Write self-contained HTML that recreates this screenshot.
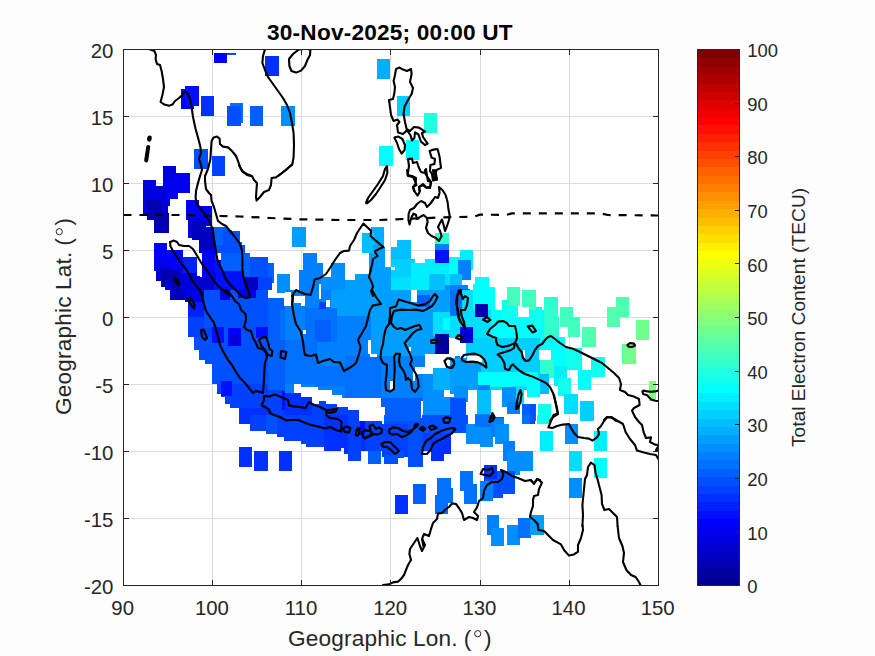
<!DOCTYPE html><html><head><meta charset="utf-8"><title>TEC map</title>
<style>html,body{margin:0;padding:0;background:#fff}svg{display:block}text{font-family:"Liberation Sans",sans-serif;fill:#262626}</style></head><body>
<svg width="875" height="656" viewBox="0 0 875 656">
<rect x="0" y="0" width="875" height="656" fill="#fdfdfd"/>
<rect x="123.5" y="49.5" width="535.0" height="536.0" fill="#ffffff"/>
<g stroke="#dcdcdc" stroke-width="1" shape-rendering="crispEdges">
<line x1="212.5" y1="49.5" x2="212.5" y2="585.5"/>
<line x1="301.5" y1="49.5" x2="301.5" y2="585.5"/>
<line x1="390.5" y1="49.5" x2="390.5" y2="585.5"/>
<line x1="480.5" y1="49.5" x2="480.5" y2="585.5"/>
<line x1="569.5" y1="49.5" x2="569.5" y2="585.5"/>
<line x1="123.5" y1="518.5" x2="658.5" y2="518.5"/>
<line x1="123.5" y1="451.5" x2="658.5" y2="451.5"/>
<line x1="123.5" y1="384.5" x2="658.5" y2="384.5"/>
<line x1="123.5" y1="317.5" x2="658.5" y2="317.5"/>
<line x1="123.5" y1="250.5" x2="658.5" y2="250.5"/>
<line x1="123.5" y1="183.5" x2="658.5" y2="183.5"/>
<line x1="123.5" y1="116.5" x2="658.5" y2="116.5"/>
</g>
<clipPath id="ax"><rect x="123.5" y="49.5" width="535.0" height="536.0"/></clipPath>
<g id="data" shape-rendering="crispEdges" clip-path="url(#ax)">
<rect x="214.0" y="52.6" width="13.4" height="10.0" fill="#0000ff"/>
<rect x="227.4" y="52.6" width="9.0" height="2.8" fill="#0050ff"/>
<rect x="265.4" y="56.0" width="13.6" height="19.6" fill="#0030ff"/>
<rect x="180.6" y="89.4" width="13.4" height="19.6" fill="#0000ff"/>
<rect x="185.0" y="86.0" width="13.6" height="19.6" fill="#0010ff"/>
<rect x="200.8" y="96.0" width="13.2" height="19.6" fill="#0030ff"/>
<rect x="230.0" y="102.6" width="13.0" height="20.0" fill="#0070ff"/>
<rect x="227.4" y="106.0" width="13.6" height="20.0" fill="#0050ff"/>
<rect x="250.0" y="106.0" width="13.2" height="20.0" fill="#0060ff"/>
<rect x="281.2" y="106.0" width="13.8" height="20.0" fill="#008fff"/>
<rect x="194.0" y="149.4" width="13.6" height="20.0" fill="#0050ff"/>
<rect x="212.0" y="156.0" width="13.2" height="20.0" fill="#0040ff"/>
<rect x="162.6" y="166.0" width="13.4" height="10.0" fill="#0000ef"/>
<rect x="176.0" y="173.0" width="13.6" height="3.0" fill="#0000ef"/>
<rect x="377.0" y="59.0" width="13.4" height="20.0" fill="#00afff"/>
<rect x="397.0" y="96.0" width="13.4" height="20.0" fill="#00cfff"/>
<rect x="424.0" y="113.0" width="13.4" height="19.6" fill="#20ffdf"/>
<rect x="406.0" y="139.6" width="13.4" height="20.0" fill="#00ffff"/>
<rect x="379.0" y="146.2" width="13.6" height="20.0" fill="#00ffff"/>
<rect x="179.0" y="269.0" width="5.0" height="5.0" fill="#0000ff"/>
<rect x="213.0" y="284.0" width="4.0" height="7.0" fill="#0010ff"/>
<rect x="163.0" y="166.0" width="13.4" height="20.0" fill="#0000df"/>
<rect x="176.4" y="173.0" width="13.2" height="20.0" fill="#0000ef"/>
<rect x="143.0" y="179.6" width="13.4" height="20.0" fill="#0000df"/>
<rect x="156.0" y="186.0" width="13.6" height="20.0" fill="#0000df"/>
<rect x="165.0" y="179.4" width="13.4" height="20.0" fill="#0000ef"/>
<rect x="143.0" y="199.6" width="5.0" height="15.4" fill="#0000df"/>
<rect x="161.0" y="203.0" width="6.6" height="11.0" fill="#0000cf"/>
<rect x="147.0" y="200.0" width="14.0" height="20.0" fill="#0000af"/>
<rect x="154.4" y="213.0" width="14.8" height="20.0" fill="#0000af"/>
<rect x="185.6" y="199.6" width="13.4" height="20.0" fill="#0000ff"/>
<rect x="199.0" y="206.0" width="13.0" height="20.0" fill="#0000ff"/>
<rect x="187.6" y="218.0" width="13.4" height="20.0" fill="#0000df"/>
<rect x="204.0" y="227.0" width="10.0" height="18.0" fill="#0000cf"/>
<rect x="192.4" y="221.0" width="13.6" height="19.0" fill="#0000bf"/>
<rect x="199.0" y="233.0" width="15.0" height="20.0" fill="#0000bf"/>
<rect x="214.0" y="226.6" width="14.0" height="20.0" fill="#0060ff"/>
<rect x="223.0" y="230.0" width="9.0" height="15.0" fill="#0050ff"/>
<rect x="228.0" y="242.0" width="14.0" height="17.0" fill="#0060ff"/>
<rect x="214.0" y="245.0" width="31.0" height="16.0" fill="#0050ff"/>
<rect x="220.0" y="253.0" width="30.0" height="24.0" fill="#0060ff"/>
<rect x="202.0" y="250.0" width="13.0" height="20.0" fill="#0000ff"/>
<rect x="250.0" y="257.0" width="18.0" height="20.0" fill="#0050ff"/>
<rect x="268.0" y="263.0" width="6.4" height="20.0" fill="#0060ff"/>
<rect x="276.6" y="273.6" width="13.4" height="19.4" fill="#008fff"/>
<rect x="292.4" y="226.6" width="2.6" height="20.0" fill="#009fff"/>
<rect x="258.0" y="277.0" width="14.0" height="19.0" fill="#0040ff"/>
<rect x="215.0" y="271.0" width="29.0" height="25.0" fill="#0010ff"/>
<rect x="244.0" y="277.0" width="14.0" height="19.0" fill="#0000bf"/>
<rect x="154.0" y="243.4" width="13.4" height="20.0" fill="#0000ff"/>
<rect x="167.4" y="250.0" width="15.6" height="20.0" fill="#0000ff"/>
<rect x="154.0" y="259.0" width="16.0" height="12.0" fill="#0000ef"/>
<rect x="156.4" y="267.0" width="15.6" height="14.0" fill="#0000cf"/>
<rect x="161.0" y="270.0" width="19.0" height="17.0" fill="#0000af"/>
<rect x="170.0" y="285.0" width="16.0" height="11.0" fill="#0000af"/>
<rect x="183.0" y="257.0" width="14.0" height="20.0" fill="#0020ff"/>
<rect x="180.0" y="273.0" width="20.0" height="23.0" fill="#0000df"/>
<rect x="202.4" y="269.0" width="13.6" height="16.0" fill="#0000ef"/>
<rect x="200.0" y="277.0" width="14.0" height="19.0" fill="#0000cf"/>
<rect x="165.0" y="281.0" width="7.0" height="9.0" fill="#0000df"/>
<rect x="228.0" y="231.0" width="12.0" height="14.0" fill="#0050ff"/>
<rect x="214.0" y="259.0" width="7.0" height="13.0" fill="#0010ff"/>
<rect x="217.0" y="253.0" width="3.6" height="7.0" fill="#ffffff"/>
<rect x="197.0" y="263.0" width="5.4" height="13.0" fill="#ffffff"/>
<rect x="292.4" y="226.6" width="13.2" height="20.0" fill="#009fff"/>
<rect x="303.4" y="253.4" width="13.6" height="20.6" fill="#0080ff"/>
<rect x="317.0" y="263.0" width="6.4" height="14.0" fill="#0080ff"/>
<rect x="299.4" y="270.0" width="13.6" height="26.0" fill="#0080ff"/>
<rect x="285.0" y="274.0" width="5.0" height="19.0" fill="#008fff"/>
<rect x="313.0" y="274.0" width="5.0" height="5.0" fill="#0080ff"/>
<rect x="313.0" y="278.0" width="8.4" height="18.0" fill="#0080ff"/>
<rect x="331.0" y="263.0" width="13.6" height="20.0" fill="#008fff"/>
<rect x="321.4" y="277.0" width="23.6" height="19.0" fill="#008fff"/>
<rect x="345.0" y="280.0" width="10.0" height="16.0" fill="#009fff"/>
<rect x="355.0" y="274.0" width="14.0" height="22.0" fill="#009fff"/>
<rect x="370.6" y="226.6" width="13.4" height="20.0" fill="#00afff"/>
<rect x="362.0" y="233.0" width="13.0" height="20.0" fill="#00bfff"/>
<rect x="373.0" y="245.0" width="6.0" height="6.0" fill="#009fff"/>
<rect x="369.0" y="253.0" width="16.0" height="14.0" fill="#009fff"/>
<rect x="377.0" y="246.6" width="8.0" height="8.4" fill="#009fff"/>
<rect x="369.0" y="267.0" width="22.0" height="29.0" fill="#009fff"/>
<rect x="391.0" y="246.6" width="6.0" height="20.4" fill="#00bfff"/>
<rect x="397.0" y="240.0" width="13.6" height="20.0" fill="#00bfff"/>
<rect x="390.6" y="259.0" width="24.4" height="20.0" fill="#00cfff"/>
<rect x="391.0" y="277.0" width="20.0" height="19.0" fill="#00dfff"/>
<rect x="411.0" y="263.0" width="18.0" height="33.0" fill="#00efff"/>
<rect x="425.0" y="259.0" width="26.0" height="18.0" fill="#00efff"/>
<rect x="435.0" y="233.0" width="13.6" height="11.0" fill="#30ffcf"/>
<rect x="435.0" y="244.0" width="13.6" height="6.0" fill="#0080ff"/>
<rect x="435.0" y="250.0" width="13.6" height="13.0" fill="#0010ff"/>
<rect x="448.6" y="257.0" width="11.4" height="20.0" fill="#00ffff"/>
<rect x="429.0" y="274.0" width="16.0" height="22.0" fill="#00bfff"/>
<rect x="445.0" y="274.0" width="15.0" height="15.0" fill="#00dfff"/>
<rect x="445.0" y="285.0" width="15.0" height="11.0" fill="#008fff"/>
<rect x="390.6" y="266.6" width="4.4" height="3.4" fill="#ffffff"/>
<rect x="411.0" y="290.0" width="6.0" height="6.0" fill="#ffffff"/>
<rect x="319.4" y="284.0" width="2.0" height="12.0" fill="#ffffff"/>
<rect x="459.6" y="250.0" width="13.4" height="20.0" fill="#00efff"/>
<rect x="451.0" y="257.0" width="8.6" height="28.0" fill="#00ffff"/>
<rect x="457.6" y="260.0" width="13.4" height="20.0" fill="#0080ff"/>
<rect x="450.0" y="274.0" width="12.0" height="22.0" fill="#00bfff"/>
<rect x="450.0" y="285.0" width="18.0" height="11.0" fill="#0080ff"/>
<rect x="462.0" y="289.0" width="8.0" height="7.0" fill="#0050ff"/>
<rect x="475.4" y="277.0" width="13.2" height="19.0" fill="#00ffff"/>
<rect x="473.0" y="284.0" width="2.4" height="12.0" fill="#00ffff"/>
<rect x="488.6" y="287.0" width="6.8" height="9.0" fill="#00ffff"/>
<rect x="506.6" y="287.0" width="13.4" height="9.0" fill="#40ffbf"/>
<rect x="522.0" y="290.2" width="13.6" height="5.8" fill="#40ffbf"/>
<rect x="187.6" y="300.0" width="28.4" height="37.0" fill="#0040ff"/>
<rect x="194.4" y="337.0" width="21.6" height="13.0" fill="#0050ff"/>
<rect x="198.6" y="350.0" width="17.4" height="10.4" fill="#0050ff"/>
<rect x="205.0" y="360.4" width="11.0" height="3.6" fill="#0050ff"/>
<rect x="204.0" y="290.0" width="64.0" height="38.0" fill="#0050ff"/>
<rect x="216.0" y="328.0" width="52.0" height="56.0" fill="#0050ff"/>
<rect x="212.0" y="364.0" width="56.0" height="20.0" fill="#0050ff"/>
<rect x="216.6" y="384.0" width="51.4" height="10.0" fill="#0040ff"/>
<rect x="221.0" y="394.0" width="47.0" height="3.4" fill="#0040ff"/>
<rect x="225.4" y="397.4" width="42.6" height="6.6" fill="#0040ff"/>
<rect x="230.0" y="404.0" width="38.0" height="3.6" fill="#0040ff"/>
<rect x="239.0" y="407.6" width="56.0" height="13.4" fill="#0030ff"/>
<rect x="268.0" y="298.0" width="27.0" height="123.0" fill="#0060ff"/>
<rect x="280.0" y="310.0" width="15.0" height="30.0" fill="#0070ff"/>
<rect x="290.0" y="304.0" width="5.0" height="46.0" fill="#008fff"/>
<rect x="268.0" y="390.0" width="27.0" height="31.0" fill="#0040ff"/>
<rect x="187.6" y="300.0" width="16.4" height="17.0" fill="#0020ff"/>
<rect x="169.6" y="290.0" width="15.4" height="10.0" fill="#0000bf"/>
<rect x="185.0" y="290.0" width="19.0" height="12.0" fill="#0000ef"/>
<rect x="220.0" y="290.0" width="10.0" height="10.0" fill="#0000df"/>
<rect x="238.0" y="290.0" width="18.0" height="8.0" fill="#0000ef"/>
<rect x="212.0" y="327.0" width="12.0" height="16.0" fill="#0010ff"/>
<rect x="228.0" y="328.0" width="13.0" height="18.0" fill="#0000ff"/>
<rect x="232.0" y="335.0" width="7.0" height="9.0" fill="#0000cf"/>
<rect x="256.0" y="327.0" width="12.0" height="11.0" fill="#0010ff"/>
<rect x="221.0" y="381.0" width="11.0" height="15.0" fill="#0010ff"/>
<rect x="282.0" y="391.0" width="13.0" height="19.0" fill="#0010ff"/>
<rect x="268.0" y="290.0" width="24.0" height="8.0" fill="#ffffff"/>
<rect x="277.0" y="290.0" width="13.0" height="3.0" fill="#008fff"/>
<rect x="284.0" y="298.0" width="5.0" height="8.0" fill="#ffffff"/>
<rect x="285.0" y="290.0" width="175.0" height="131.0" fill="#0080ff"/>
<rect x="331.0" y="290.0" width="129.0" height="26.0" fill="#009fff"/>
<rect x="371.0" y="310.0" width="66.0" height="46.0" fill="#009fff"/>
<rect x="305.0" y="308.0" width="32.0" height="34.0" fill="#0070ff"/>
<rect x="315.0" y="320.0" width="16.0" height="22.0" fill="#0060ff"/>
<rect x="285.0" y="340.0" width="32.0" height="44.0" fill="#0070ff"/>
<rect x="315.0" y="366.0" width="30.0" height="20.0" fill="#0070ff"/>
<rect x="345.0" y="356.0" width="36.0" height="42.0" fill="#0070ff"/>
<rect x="381.0" y="356.0" width="44.0" height="42.0" fill="#0080ff"/>
<rect x="417.0" y="295.0" width="13.0" height="12.0" fill="#0060ff"/>
<rect x="433.0" y="312.0" width="27.0" height="24.0" fill="#00dfff"/>
<rect x="443.0" y="318.0" width="14.0" height="12.0" fill="#00ffff"/>
<rect x="456.0" y="290.0" width="4.0" height="32.0" fill="#0070ff"/>
<rect x="423.0" y="368.0" width="37.0" height="53.0" fill="#008fff"/>
<rect x="433.0" y="366.0" width="27.0" height="24.0" fill="#00afff"/>
<rect x="381.0" y="398.0" width="42.0" height="23.0" fill="#0060ff"/>
<rect x="405.0" y="402.0" width="16.0" height="16.0" fill="#0060ff"/>
<rect x="285.0" y="393.0" width="27.0" height="28.0" fill="#0030ff"/>
<rect x="312.0" y="404.0" width="25.0" height="17.0" fill="#0040ff"/>
<rect x="337.0" y="407.0" width="22.0" height="14.0" fill="#0040ff"/>
<rect x="319.0" y="302.0" width="7.0" height="7.0" fill="#0040ff"/>
<rect x="294.0" y="384.0" width="7.4" height="9.0" fill="#ffffff"/>
<rect x="301.0" y="387.0" width="17.0" height="10.0" fill="#ffffff"/>
<rect x="312.0" y="390.0" width="20.0" height="11.0" fill="#ffffff"/>
<rect x="312.0" y="401.0" width="7.0" height="3.0" fill="#ffffff"/>
<rect x="326.0" y="395.0" width="16.0" height="9.0" fill="#ffffff"/>
<rect x="337.0" y="398.0" width="12.0" height="9.0" fill="#ffffff"/>
<rect x="348.0" y="398.0" width="33.0" height="12.0" fill="#ffffff"/>
<rect x="359.0" y="407.0" width="26.0" height="11.0" fill="#ffffff"/>
<rect x="359.0" y="418.0" width="30.0" height="3.0" fill="#ffffff"/>
<rect x="285.0" y="292.0" width="6.0" height="14.0" fill="#ffffff"/>
<rect x="294.0" y="296.0" width="11.0" height="7.0" fill="#ffffff"/>
<rect x="300.6" y="297.0" width="4.8" height="9.0" fill="#ffffff"/>
<rect x="326.0" y="300.0" width="4.0" height="7.0" fill="#ffffff"/>
<rect x="319.0" y="290.0" width="2.4" height="9.0" fill="#ffffff"/>
<rect x="303.0" y="330.0" width="3.0" height="4.0" fill="#ffffff"/>
<rect x="411.0" y="290.0" width="6.0" height="12.0" fill="#ffffff"/>
<rect x="453.0" y="303.0" width="4.0" height="14.0" fill="#ffffff"/>
<rect x="368.0" y="340.0" width="3.0" height="14.0" fill="#ffffff"/>
<rect x="370.0" y="353.6" width="7.0" height="3.4" fill="#ffffff"/>
<rect x="425.0" y="354.0" width="30.0" height="14.0" fill="#ffffff"/>
<rect x="448.0" y="337.0" width="12.0" height="19.0" fill="#ffffff"/>
<rect x="415.0" y="367.0" width="18.0" height="7.0" fill="#ffffff"/>
<rect x="444.0" y="390.0" width="11.0" height="7.0" fill="#ffffff"/>
<rect x="421.0" y="401.0" width="2.0" height="17.0" fill="#ffffff"/>
<rect x="413.0" y="372.0" width="2.0" height="9.0" fill="#ffffff"/>
<rect x="390.4" y="381.0" width="2.6" height="9.0" fill="#ffffff"/>
<rect x="408.6" y="347.0" width="2.0" height="4.0" fill="#ffffff"/>
<rect x="435.4" y="334.0" width="13.2" height="19.6" fill="#00009f"/>
<rect x="319.0" y="400.6" width="7.0" height="3.8" fill="#0040ff"/>
<rect x="450.0" y="290.0" width="24.0" height="48.0" fill="#00dfff"/>
<rect x="450.0" y="290.0" width="12.0" height="26.0" fill="#0070ff"/>
<rect x="473.0" y="290.0" width="22.0" height="20.0" fill="#00ffff"/>
<rect x="466.0" y="310.0" width="30.0" height="32.0" fill="#00dfff"/>
<rect x="491.0" y="310.0" width="53.0" height="40.0" fill="#00ffff"/>
<rect x="502.0" y="300.0" width="16.0" height="18.0" fill="#10ffef"/>
<rect x="529.0" y="307.0" width="13.0" height="20.0" fill="#10ffef"/>
<rect x="506.6" y="290.0" width="13.4" height="16.0" fill="#40ffbf"/>
<rect x="522.0" y="290.0" width="13.6" height="20.0" fill="#40ffbf"/>
<rect x="544.0" y="297.0" width="14.0" height="20.0" fill="#30ffcf"/>
<rect x="544.0" y="317.0" width="15.0" height="20.0" fill="#30ffcf"/>
<rect x="560.0" y="307.0" width="13.4" height="20.0" fill="#40ffbf"/>
<rect x="568.0" y="317.0" width="12.0" height="20.0" fill="#40ffbf"/>
<rect x="582.0" y="327.0" width="13.6" height="20.0" fill="#50ffaf"/>
<rect x="607.0" y="307.0" width="13.0" height="20.0" fill="#50ffaf"/>
<rect x="616.0" y="297.0" width="9.0" height="20.0" fill="#50ffaf"/>
<rect x="622.4" y="344.0" width="2.6" height="20.0" fill="#50ffaf"/>
<rect x="466.0" y="338.0" width="74.0" height="52.0" fill="#00cfff"/>
<rect x="477.6" y="342.6" width="35.4" height="29.0" fill="#00cfff"/>
<rect x="466.4" y="371.6" width="71.6" height="15.0" fill="#00ffff"/>
<rect x="450.0" y="358.0" width="28.0" height="36.0" fill="#009fff"/>
<rect x="455.0" y="357.6" width="26.4" height="14.4" fill="#009fff"/>
<rect x="477.6" y="385.4" width="12.6" height="7.6" fill="#0080ff"/>
<rect x="540.0" y="337.0" width="25.0" height="33.0" fill="#00ffff"/>
<rect x="565.0" y="348.0" width="17.0" height="22.0" fill="#10ffef"/>
<rect x="540.0" y="360.0" width="14.0" height="18.0" fill="#30ffcf"/>
<rect x="554.0" y="366.0" width="13.0" height="20.0" fill="#00efff"/>
<rect x="558.0" y="378.0" width="13.0" height="18.0" fill="#10ffef"/>
<rect x="578.0" y="370.0" width="13.0" height="20.0" fill="#00ffff"/>
<rect x="591.0" y="357.0" width="14.0" height="20.0" fill="#10ffef"/>
<rect x="527.0" y="378.0" width="13.0" height="19.0" fill="#00ffff"/>
<rect x="540.0" y="374.0" width="9.0" height="20.0" fill="#00bfff"/>
<rect x="512.0" y="386.0" width="12.0" height="18.0" fill="#00dfff"/>
<rect x="502.0" y="387.0" width="14.0" height="20.0" fill="#008fff"/>
<rect x="507.0" y="402.0" width="13.0" height="12.0" fill="#0080ff"/>
<rect x="522.0" y="404.0" width="13.6" height="17.0" fill="#0060ff"/>
<rect x="538.0" y="404.0" width="13.0" height="17.0" fill="#00ffff"/>
<rect x="564.0" y="394.0" width="14.0" height="20.0" fill="#00dfff"/>
<rect x="580.0" y="401.0" width="13.6" height="20.0" fill="#00cfff"/>
<rect x="477.0" y="390.0" width="14.0" height="24.0" fill="#00bfff"/>
<rect x="475.0" y="414.0" width="15.0" height="7.0" fill="#0080ff"/>
<rect x="454.0" y="386.0" width="14.0" height="16.0" fill="#008fff"/>
<rect x="450.0" y="398.0" width="16.0" height="23.0" fill="#0050ff"/>
<rect x="490.0" y="417.0" width="14.0" height="4.0" fill="#0050ff"/>
<rect x="475.0" y="303.6" width="13.4" height="13.4" fill="#0000af"/>
<rect x="460.0" y="327.0" width="13.0" height="16.0" fill="#0000ef"/>
<rect x="460.0" y="333.0" width="10.0" height="10.0" fill="#0000bf"/>
<rect x="518.0" y="307.0" width="11.0" height="10.0" fill="#ffffff"/>
<rect x="539.0" y="350.0" width="12.0" height="10.0" fill="#ffffff"/>
<rect x="467.0" y="356.0" width="15.0" height="6.0" fill="#ffffff"/>
<rect x="523.0" y="350.0" width="2.0" height="9.0" fill="#ffffff"/>
<rect x="468.0" y="390.0" width="9.0" height="18.0" fill="#ffffff"/>
<rect x="607.0" y="307.0" width="13.0" height="20.0" fill="#50ffaf"/>
<rect x="616.0" y="297.0" width="13.0" height="20.0" fill="#50ffaf"/>
<rect x="636.0" y="320.4" width="13.4" height="20.0" fill="#70ff8f"/>
<rect x="622.6" y="344.0" width="13.4" height="19.6" fill="#70ff8f"/>
<rect x="649.4" y="380.6" width="6.6" height="20.4" fill="#80ff80"/>
<rect x="238.6" y="447.4" width="13.4" height="20.0" fill="#0030ff"/>
<rect x="254.4" y="451.0" width="13.2" height="20.0" fill="#0030ff"/>
<rect x="279.0" y="451.0" width="13.4" height="20.0" fill="#0030ff"/>
<rect x="238.6" y="415.0" width="15.4" height="9.0" fill="#0030ff"/>
<rect x="250.0" y="415.0" width="16.0" height="16.0" fill="#0040ff"/>
<rect x="266.0" y="415.0" width="11.0" height="19.0" fill="#0050ff"/>
<rect x="277.0" y="415.0" width="7.0" height="22.4" fill="#0040ff"/>
<rect x="284.0" y="415.0" width="17.0" height="25.6" fill="#0040ff"/>
<rect x="301.0" y="415.0" width="5.0" height="29.0" fill="#0040ff"/>
<rect x="306.0" y="415.0" width="18.0" height="32.4" fill="#0040ff"/>
<rect x="324.0" y="415.0" width="17.0" height="36.0" fill="#0030ff"/>
<rect x="341.0" y="415.0" width="3.0" height="33.0" fill="#0030ff"/>
<rect x="344.0" y="415.0" width="4.0" height="39.0" fill="#0030ff"/>
<rect x="348.0" y="415.0" width="13.0" height="45.6" fill="#0040ff"/>
<rect x="361.0" y="415.0" width="14.0" height="36.0" fill="#0030ff"/>
<rect x="368.4" y="451.0" width="6.6" height="13.0" fill="#0080ff"/>
<rect x="360.0" y="421.0" width="15.0" height="14.0" fill="#0010ff"/>
<rect x="359.0" y="415.0" width="16.0" height="6.0" fill="#ffffff"/>
<rect x="384.0" y="419.0" width="39.0" height="6.0" fill="#0050ff"/>
<rect x="365.0" y="421.0" width="17.0" height="30.0" fill="#0040ff"/>
<rect x="368.0" y="451.0" width="13.4" height="13.0" fill="#0060ff"/>
<rect x="382.0" y="424.0" width="26.0" height="33.0" fill="#0040ff"/>
<rect x="384.0" y="455.0" width="14.0" height="9.0" fill="#0050ff"/>
<rect x="398.0" y="451.0" width="6.0" height="7.0" fill="#0050ff"/>
<rect x="408.0" y="424.0" width="15.0" height="43.0" fill="#0050ff"/>
<rect x="423.0" y="415.0" width="28.0" height="36.0" fill="#0040ff"/>
<rect x="431.0" y="441.0" width="13.0" height="20.0" fill="#0030ff"/>
<rect x="444.0" y="435.0" width="7.0" height="19.0" fill="#0030ff"/>
<rect x="384.0" y="415.0" width="35.0" height="6.0" fill="#0060ff"/>
<rect x="422.0" y="415.0" width="46.0" height="18.0" fill="#0050ff"/>
<rect x="466.0" y="424.0" width="27.0" height="20.0" fill="#008fff"/>
<rect x="475.0" y="415.0" width="17.0" height="12.0" fill="#0070ff"/>
<rect x="480.0" y="435.0" width="13.0" height="12.0" fill="#008fff"/>
<rect x="491.0" y="418.0" width="13.0" height="19.0" fill="#0080ff"/>
<rect x="495.0" y="424.0" width="13.6" height="20.0" fill="#008fff"/>
<rect x="502.6" y="441.0" width="12.4" height="20.0" fill="#0080ff"/>
<rect x="507.0" y="451.0" width="26.0" height="20.0" fill="#008fff"/>
<rect x="513.0" y="467.0" width="7.0" height="8.0" fill="#008fff"/>
<rect x="522.0" y="415.0" width="13.0" height="9.0" fill="#0070ff"/>
<rect x="537.4" y="415.0" width="2.6" height="9.0" fill="#00ffff"/>
<rect x="497.4" y="471.0" width="17.6" height="23.0" fill="#0050ff"/>
<rect x="484.0" y="464.6" width="13.4" height="16.4" fill="#0030ff"/>
<rect x="485.0" y="479.0" width="20.0" height="15.0" fill="#0050ff"/>
<rect x="480.0" y="481.0" width="13.0" height="20.0" fill="#0080ff"/>
<rect x="493.0" y="491.0" width="10.0" height="7.0" fill="#0050ff"/>
<rect x="459.6" y="471.0" width="13.4" height="20.0" fill="#0070ff"/>
<rect x="464.0" y="484.0" width="13.4" height="20.0" fill="#0070ff"/>
<rect x="437.4" y="478.0" width="13.2" height="20.0" fill="#0070ff"/>
<rect x="442.0" y="488.0" width="11.0" height="15.0" fill="#0070ff"/>
<rect x="435.0" y="494.6" width="13.0" height="19.8" fill="#0070ff"/>
<rect x="413.0" y="484.4" width="13.0" height="20.0" fill="#0060ff"/>
<rect x="395.0" y="494.6" width="13.0" height="19.8" fill="#0030ff"/>
<rect x="486.6" y="514.6" width="12.8" height="20.0" fill="#0080ff"/>
<rect x="491.0" y="528.0" width="13.0" height="18.0" fill="#008fff"/>
<rect x="506.6" y="524.6" width="13.4" height="20.0" fill="#008fff"/>
<rect x="518.0" y="518.0" width="13.0" height="20.0" fill="#0070ff"/>
<rect x="531.0" y="515.0" width="9.0" height="19.6" fill="#009fff"/>
<rect x="530.0" y="404.0" width="5.4" height="20.0" fill="#0050ff"/>
<rect x="538.0" y="404.0" width="13.0" height="20.0" fill="#10ffef"/>
<rect x="565.0" y="395.0" width="13.0" height="19.0" fill="#00dfff"/>
<rect x="580.0" y="400.6" width="13.4" height="20.0" fill="#00cfff"/>
<rect x="540.0" y="431.0" width="13.4" height="20.0" fill="#00efff"/>
<rect x="564.6" y="424.0" width="13.4" height="20.0" fill="#008fff"/>
<rect x="593.6" y="431.0" width="13.4" height="20.0" fill="#00efff"/>
<rect x="530.0" y="451.0" width="3.0" height="20.0" fill="#008fff"/>
<rect x="569.0" y="451.0" width="13.4" height="20.0" fill="#00dfff"/>
<rect x="593.6" y="457.6" width="13.4" height="20.0" fill="#00ffff"/>
<rect x="569.0" y="477.6" width="13.4" height="20.0" fill="#008fff"/>
<rect x="530.0" y="514.6" width="14.4" height="20.0" fill="#009fff"/>
</g>
<g id="coast" clip-path="url(#ax)" fill="none" stroke="#000" stroke-width="2.2" stroke-linejoin="round" stroke-linecap="round">
<polyline points="150.0,49.4 154.4,51.0 156.0,55.0 155.6,59.0 157.0,64.0 160.0,65.0 161.6,71.0 163.0,79.0 164.0,87.0 162.4,95.0 160.6,102.0 164.4,104.6 169.0,105.8 172.4,104.6 175.0,101.0 179.0,98.0 182.0,95.4 183.6,92.0 185.6,91.4 188.0,94.0 190.0,99.0 191.6,107.0 193.0,117.0 195.6,129.0 198.4,139.0 200.4,147.0 201.0,153.0 199.0,159.0 201.0,165.0 202.0,170.0 200.0,176.0" stroke-width="2.1"/>
<polyline points="205.0,176.0 208.0,169.0 210.4,159.0 211.0,149.0 211.6,141.0 213.6,137.4 217.0,136.6 219.6,138.6 220.0,144.0 223.0,146.6 228.0,147.4 232.0,151.0 236.0,156.0 238.0,161.0 240.0,167.0 243.0,172.0 247.0,175.0 251.0,176.0" stroke-width="2.1"/>
<polyline points="278.0,176.0 286.0,170.0 292.4,164.0 293.6,157.0 294.0,145.0 293.6,133.0 292.0,123.0 290.0,113.0 287.0,105.0 283.0,98.0 278.0,91.0 273.0,84.0 268.0,77.0 265.0,70.0 262.4,63.0 263.0,56.0 265.0,49.4" stroke-width="2.1"/>
<polyline points="149.6,137.8 149.2,139.4" stroke-width="4.5"/>
<polyline points="148.2,147.0 146.2,160.4" stroke-width="4"/>
<polyline points="289.0,59.0 293.0,54.0 299.0,49.4 307.0,48.6 310.4,50.0 310.0,55.0 307.4,60.0 305.0,66.0 301.0,70.6 296.0,72.6 291.4,71.0 289.4,66.0 289.0,59.0" stroke-width="2.1"/>
<polyline points="396.0,69.0 399.6,67.6 403.0,69.6 407.0,71.0 411.0,69.0 411.6,74.0 410.0,82.0 413.0,88.0 411.6,94.0 408.0,100.0 404.4,107.0 403.6,114.0 405.0,122.0 406.6,129.0 410.0,131.0 414.0,127.0 419.0,127.6 425.0,131.6 422.0,133.0 423.0,137.0 427.6,143.6 425.0,145.0 421.0,141.6 418.4,134.4 415.0,132.4 414.4,138.0 412.0,140.4 410.4,135.0 407.0,130.4 403.0,134.0 398.0,132.4 397.0,125.0 399.4,122.0 397.6,119.6 393.6,121.0 391.0,115.0 390.0,107.0 389.0,100.0 393.0,99.0 394.4,93.0 395.0,87.0 393.6,81.0 395.0,75.0 396.0,69.0" stroke-width="2.1"/>
<polyline points="394.4,137.6 398.4,136.6 402.4,139.0 405.0,145.0 404.6,150.0 401.6,153.6 399.0,149.0 397.0,143.0 394.4,137.6" stroke-width="2.1"/>
<polyline points="429.6,151.0 433.6,149.6 437.6,149.0 439.6,157.0 441.0,168.0 437.0,169.6 435.0,174.0 437.0,179.6 433.0,180.6 432.0,174.0 430.0,171.0 430.4,165.0 434.4,164.0 435.0,159.0 431.6,157.6 429.6,151.0" stroke-width="2.1"/>
<polyline points="414.0,191.0 413.0,187.0 415.6,184.0 416.0,178.0 412.0,176.0 407.6,175.0 409.0,166.0 408.0,159.0 412.0,158.6 413.0,163.0 417.0,162.0 418.6,167.0 421.0,172.0 425.0,173.0 426.0,169.0 427.0,176.0 428.0,181.0 431.0,182.0 430.0,188.0 426.0,187.0 423.0,184.0 419.0,187.0 420.0,191.0" stroke-width="2.1"/>
<polyline points="439.0,187.0 442.4,190.0 445.6,195.0 447.6,202.0 448.4,209.0 449.6,215.0 449.0,220.0 447.0,226.0 445.0,231.0 443.6,225.0 442.0,219.6 440.0,223.0 438.0,227.0 440.0,231.0 441.6,236.0 439.0,241.0 436.0,238.0 431.6,236.0 428.0,233.0 426.0,228.0 427.6,222.0 427.0,218.0 423.6,215.0 420.0,217.0 417.0,219.0 416.0,215.0 413.6,213.6 411.6,217.0 410.4,221.0 409.6,224.4 408.4,220.0 408.6,214.0 410.0,210.0 414.0,208.0 417.0,204.0 421.0,201.0 425.0,203.0 427.0,207.0 430.0,204.0 433.0,200.0 435.0,197.0 438.0,198.0 439.6,193.0 439.0,187.0" stroke-width="2.1"/>
<polyline points="407.0,170.0 408.0,176.0 413.0,177.0 415.0,181.0 416.4,185.0 413.0,187.0 415.0,192.0 417.6,195.6 419.6,192.0 419.0,187.0 423.0,185.0 426.4,188.0 430.0,187.0 431.0,182.0 428.0,178.0 425.6,174.0 425.0,170.0" stroke-width="2.1"/>
<polyline points="433.0,170.0 434.0,178.0 437.0,179.6 436.0,174.0 435.0,170.0" stroke-width="2.1"/>
<polyline points="200.0,176.0 198.0,183.0 196.0,191.0 195.6,198.0 197.0,204.0 200.0,208.0 204.0,213.0 208.0,219.0 211.0,225.0 213.0,231.0 214.0,239.0 215.2,247.0 217.2,258.8 220.4,266.8 223.6,273.2 225.2,278.0 230.0,284.4 236.4,290.8 242.0,296.4 246.0,298.0 250.0,297.2 248.4,290.8 246.0,284.4 243.6,278.0 242.4,270.0 242.4,259.0 242.0,251.0 240.0,244.0 235.0,237.0 230.0,231.0 226.0,226.0 222.0,224.0 218.0,221.0 216.0,214.0 214.0,207.0 211.6,201.0 211.0,195.0 209.0,193.0 206.0,189.0 205.0,181.0 205.0,176.0" stroke-width="2.1"/>
<polyline points="239.0,165.0 242.0,171.0 248.0,174.6 252.0,176.0 254.0,180.0 257.0,183.0 256.4,191.0 256.0,197.0 256.6,200.6 260.0,197.0 264.0,192.0 269.0,190.0 271.0,185.0 271.6,178.0 276.0,177.4 282.0,173.0 288.0,168.0 292.0,165.0" stroke-width="2.1"/>
<polyline points="170.0,242.0 174.0,240.6 177.0,242.0 179.0,245.0 184.0,246.0 189.0,246.0 193.0,249.0 196.0,254.0 199.0,259.0 202.0,264.0 206.0,269.0 210.0,275.0 214.0,281.0 218.0,286.0 223.0,290.0 228.0,294.0 231.0,296.0" stroke-width="2.1"/>
<polyline points="170.0,242.0 170.4,246.0 173.0,251.0 177.0,257.0 181.0,263.0 185.0,268.0 189.0,274.0 192.0,280.0 196.0,286.0 200.0,290.0 202.0,294.0 203.0,296.0" stroke-width="2.1"/>
<polyline points="175.0,279.4 178.4,283.4" stroke-width="4"/>
<polyline points="292.0,296.0 296.0,290.0 300.0,292.0 305.0,294.0 310.6,295.0 313.0,287.0 314.6,279.4 320.0,278.0 326.0,274.0 330.0,268.0 335.0,260.0 340.0,253.0 344.0,251.0 349.0,250.6 350.0,246.0 354.0,240.0 357.0,233.0 361.0,227.0 363.4,223.6 367.0,227.0 371.0,230.6 370.6,236.0 375.0,240.0 379.0,243.4 383.4,247.0 379.0,249.0 375.0,251.4 377.4,256.0 373.0,259.0 372.0,265.0 370.0,273.0 369.0,277.0 372.0,283.0 373.0,287.0 371.0,291.0 373.0,296.0" stroke-width="2.1"/>
<polyline points="366.0,203.0 368.0,198.0 373.0,191.0 378.0,184.0 383.0,176.0 385.0,169.0 387.0,166.0 387.4,173.0 385.0,180.0 380.6,187.0 376.0,194.0 371.0,200.0 367.0,203.4 366.0,203.0" stroke-width="2.1"/>
<polyline points="200.0,290.0 202.0,296.0 204.0,304.0 206.0,311.0 210.0,317.0 214.0,323.0 216.0,329.0 218.0,337.0 220.0,345.0 224.0,353.0 228.0,360.0 232.0,365.0 236.0,372.0 240.0,378.0 245.0,383.0 249.0,388.0 253.0,393.0 256.0,391.0 259.0,391.6 263.0,393.0 263.6,386.0 264.0,378.0 264.4,370.0 265.0,363.0 267.0,357.0 265.6,352.0 262.4,349.0 258.0,348.0 256.0,343.0 253.0,338.0 251.0,331.0 247.0,330.0 244.0,327.0 246.0,320.0 245.6,314.0 241.0,310.0 239.0,304.0 235.0,301.0 232.0,296.0 228.0,292.0 226.0,290.0" stroke-width="2.1"/>
<polyline points="259.0,340.0 262.0,337.6 266.0,337.0 268.0,342.4 269.6,349.0 272.4,351.0 271.6,356.0 268.0,355.0 265.0,350.0 261.6,346.0 259.0,340.0" stroke-width="2.1"/>
<polyline points="281.0,351.0 286.4,352.0 285.0,359.0 280.6,357.6 281.0,351.0" stroke-width="2.1"/>
<polyline points="187.6,298.4 190.4,297.6 194.4,304.0 194.0,308.4 191.0,305.0 187.6,298.4" stroke-width="2.1"/>
<polyline points="201.0,330.0 203.6,329.6 207.0,338.0 205.0,340.0 202.0,337.0 201.0,330.0" stroke-width="2.1"/>
<polyline points="293.0,296.0 292.0,304.0 294.0,316.0 296.0,324.0 301.0,332.0 303.0,342.0 304.0,350.0 305.0,355.0 311.0,356.0 316.0,354.4 318.0,363.0 323.0,361.0 330.0,359.0 334.0,362.0 340.0,362.4 344.0,371.0 351.0,367.0 356.0,363.0 359.0,354.0 360.6,347.0 358.0,340.0 362.0,333.0 366.0,326.0 368.0,318.0 370.0,310.0 372.6,305.6 381.0,304.0 376.0,297.0 372.0,290.0" stroke-width="2.1"/>
<polyline points="435.0,294.0 437.4,297.0 435.0,302.0 432.0,306.0 427.0,309.0 423.0,311.0 416.0,309.6 409.0,310.0 401.0,309.6 394.0,311.0 392.0,316.0 391.0,323.0 394.0,327.0 397.0,329.0 401.0,328.0 405.0,330.0 410.0,328.0 415.0,326.0 419.4,325.0 421.4,329.0 417.0,330.0 413.0,333.0 409.0,338.0 404.6,343.0 407.0,348.0 410.0,354.0 412.0,360.0 410.0,364.0 413.0,369.0 416.0,374.0 418.0,380.0 418.6,387.0 415.0,392.0 412.0,389.0 411.0,381.0 408.0,378.0 406.0,380.0 405.0,374.0 403.0,370.0 400.0,366.0 399.0,360.0 400.0,354.0 396.0,353.6 394.0,357.0 394.6,364.0 394.6,372.0 394.0,380.0 394.0,389.0 390.0,391.6 386.0,390.0 385.4,383.0 386.6,374.0 387.0,365.0 383.0,363.0 380.6,358.0 381.0,351.0 383.0,344.0 384.0,336.0 386.0,328.0 389.0,324.0 390.0,316.0 390.0,308.0 396.0,306.4 398.6,299.6 405.0,301.6 412.0,303.6 418.0,305.6 425.0,304.4 430.0,301.0 433.0,296.0 435.0,294.0" stroke-width="2.1"/>
<polyline points="431.0,340.4 435.0,339.6 438.4,341.6 435.0,343.0 431.4,343.0 431.0,340.4" stroke-width="2.1"/>
<polyline points="444.4,361.0 447.0,358.4 451.0,358.4 454.0,361.6 454.0,365.0 451.0,367.6 447.0,367.0 444.4,361.0" stroke-width="2.1"/>
<polyline points="460.0,291.0 457.4,296.0 457.0,306.0 458.0,316.0 460.0,322.0" stroke-width="2.1"/>
<polyline points="459.0,290.0 457.0,296.0 456.0,303.0 458.0,310.0 459.0,318.0 462.0,324.0 465.0,328.0 464.0,322.0 461.6,316.0 461.0,310.0 465.0,310.0 467.0,305.0 468.0,298.0 465.0,296.0 463.0,299.0 461.0,294.0 461.0,290.0" stroke-width="2.1"/>
<polyline points="456.0,338.0 458.4,335.0 463.0,337.6 460.0,339.4 456.0,338.0" stroke-width="2.1"/>
<polyline points="483.0,319.6 487.0,317.0 490.4,320.0 487.6,322.0 483.0,319.6" stroke-width="2.1"/>
<polyline points="527.6,326.4 532.4,325.6 536.0,331.0 532.4,332.4 527.6,326.4" stroke-width="2.1"/>
<polyline points="461.6,358.0 464.0,355.0 470.0,354.0 475.0,353.6 480.0,355.6 484.0,359.0 486.0,363.0 486.4,367.6 483.0,365.0 478.0,362.4 472.0,361.6 466.0,362.0 462.4,360.4 461.6,358.0" stroke-width="2.1"/>
<polyline points="450.0,359.0 453.0,360.0 454.4,363.6 452.4,367.6 450.0,368.0" stroke-width="2.1"/>
<polyline points="487.0,334.0 490.0,329.0 495.0,325.0 498.0,321.6 503.0,321.0 507.0,323.0 509.0,326.0 515.0,326.0 516.4,332.0 517.0,338.0 515.0,343.0 509.0,345.6 502.4,347.0 497.6,345.0 496.0,341.0 496.4,338.0 493.0,337.0 487.0,334.0" stroke-width="2.1"/>
<polyline points="515.0,343.0 514.0,348.0 511.0,350.0 505.0,352.0 500.0,353.6 497.6,354.4 501.6,358.0 504.4,363.0 505.0,369.0 509.0,370.0 511.0,366.0 513.0,364.4 516.0,367.6 520.0,371.0 525.0,374.0 532.0,376.4 539.0,379.6 546.0,383.0 550.0,387.0 553.0,393.0 555.0,400.0 557.0,408.0 558.0,414.0 553.0,417.0 550.0,421.0" stroke-width="2.1"/>
<polyline points="516.4,344.0 519.0,349.0 521.6,352.0 523.0,358.0 525.6,361.0 529.0,360.4 532.0,356.0 535.0,350.0 538.0,346.0 542.0,344.0 545.0,340.0 548.0,337.0 551.0,336.0 555.0,339.0 560.0,343.0 566.0,347.0 572.0,348.4 578.0,351.0 584.0,354.0 590.0,357.0 596.0,360.0 602.0,363.0 608.0,368.0 614.0,373.0 619.0,378.0 621.0,384.0 620.0,390.0 625.0,392.0" stroke-width="2.1"/>
<polyline points="516.0,409.0 517.0,402.0 518.4,395.0 520.4,390.0 521.6,394.0 520.4,402.0 518.0,408.0 516.0,409.0" stroke-width="2.1"/>
<polyline points="490.0,419.0 492.4,413.0 494.0,416.0 492.0,421.0" stroke-width="2.1"/>
<polyline points="604.0,420.0 607.0,417.0 612.0,417.6 616.0,421.0" stroke-width="2.1"/>
<polyline points="627.4,345.0 630.0,343.0 634.0,343.6 635.0,345.6 632.0,347.0 628.6,346.6 627.4,345.0" stroke-width="2.1"/>
<polyline points="658.2,390.4 655.2,391.4 651.2,391.8 647.2,391.4 643.6,390.4 642.4,391.6 643.2,394.0 647.2,395.2 649.2,397.6 651.2,399.6 655.2,400.8 658.2,401.0" stroke-width="2.1"/>
<polyline points="342.4,428.6 346.0,426.6 350.4,428.0 349.0,432.6 345.0,432.0 342.4,428.6" stroke-width="2.1"/>
<polyline points="355.6,435.0 357.0,429.0 359.6,428.0 359.0,434.0 357.0,436.0 355.6,435.0" stroke-width="2.1"/>
<polyline points="361.6,433.0 365.0,430.0 369.0,430.6 372.0,432.6 369.0,436.0 364.0,438.0 361.6,433.0" stroke-width="2.1"/>
<polyline points="365.0,438.6 369.0,436.6 374.0,434.0 377.0,434.6 381.4,433.0 382.0,429.4 379.0,427.4 376.0,429.0 373.0,424.6 369.4,426.0 370.6,430.0 367.0,431.0 365.0,430.0" stroke-width="2.1"/>
<polyline points="389.0,430.0 393.0,427.4 398.0,428.0 403.0,431.0 408.0,432.0 413.0,429.4 417.4,426.0 418.0,424.0 415.0,424.6 414.0,428.0 411.4,432.0 407.0,435.0 402.0,437.0 397.0,434.0 392.0,434.6 389.4,433.0 389.0,430.0" stroke-width="2.1"/>
<polyline points="381.4,444.0 385.0,442.0 390.0,442.0 395.0,447.0 399.0,451.0 395.0,454.0 391.0,450.0 387.0,447.0 383.0,446.6 381.4,444.0" stroke-width="2.1"/>
<polyline points="420.0,428.6 422.6,427.0 425.0,428.6 423.0,430.6 420.0,428.6" stroke-width="2.5"/>
<polyline points="429.0,427.0 432.6,425.4 436.6,428.0 431.0,430.0 429.0,427.0" stroke-width="2.1"/>
<polyline points="443.0,419.0 446.0,417.4 450.6,418.0 449.0,422.6 444.6,423.0 443.0,419.0" stroke-width="2.1"/>
<polyline points="422.0,454.0 423.0,447.0 426.0,441.0 431.0,438.0 435.0,434.0 441.0,431.0 447.0,429.0 453.0,428.0 455.4,429.0 452.0,433.4 447.0,436.0 442.0,439.0 437.0,441.0 433.0,444.0 430.6,450.0 427.0,454.0 422.0,454.0" stroke-width="2.1"/>
<polyline points="489.4,422.0 490.6,417.0 493.0,415.0 494.6,417.0 492.6,421.0 489.4,422.0" stroke-width="2.1"/>
<polyline points="423.4,546.0 422.0,539.0 424.0,534.0 429.0,536.0 431.0,529.0 433.0,523.0 437.0,519.0 438.0,513.4 442.0,513.0 446.0,509.0 449.0,507.0 452.0,503.4 456.0,504.0 459.0,508.0 462.0,513.0 464.0,520.0 469.0,517.0 473.0,518.0 477.0,520.0 478.0,516.0 474.0,512.0 477.0,507.4 479.0,501.0 483.0,498.0 484.0,491.0 487.0,485.0 492.0,482.0 498.0,482.0 502.0,479.0 503.4,474.0 501.0,470.0 506.0,472.0 512.0,476.0 518.0,478.0 525.0,481.0 531.0,480.0 534.0,484.0 537.0,479.0 540.0,480.0" stroke-width="2.1"/>
<polyline points="480.6,474.0 483.0,469.0 488.0,470.0 492.0,468.0 493.4,472.0 490.0,476.0 485.0,475.0 480.6,474.0" stroke-width="2.1"/>
<polyline points="554.0,395.0 555.6,403.0 557.6,413.4 553.6,415.0 551.0,421.0 548.4,427.4 552.4,428.0 557.0,426.0 563.0,424.6 569.0,424.0 571.0,428.0 574.0,433.0 578.0,437.0 584.0,438.0 589.0,438.6 592.4,440.6 597.0,437.4 599.0,434.0 598.0,429.0 601.0,426.0 604.0,421.0 607.0,417.4 611.0,417.0 616.0,420.0 623.0,424.0 625.6,432.0 630.0,439.0 635.0,445.0 637.0,450.6 644.0,452.6 650.0,454.0 656.0,455.0 658.4,459.0" stroke-width="2.1"/>
<polyline points="624.8,391.8 628.0,395.0 634.0,396.6 639.0,399.0 639.6,405.0 634.0,408.0 632.0,410.6 635.0,417.0 639.0,422.0 642.0,425.0 643.6,432.0 646.0,438.0 651.0,437.4 650.0,442.0 655.0,444.6 658.4,445.0" stroke-width="2.1"/>
<polyline points="658.4,446.0 656.0,450.0 658.4,451.0" stroke-width="2.1"/>
<polyline points="582.4,526.0 583.0,515.0 582.4,505.0 583.6,493.0 585.0,479.0 587.0,475.0 588.0,467.0 591.0,462.6 594.4,465.0 595.6,473.0 598.0,481.0 600.0,489.0 601.6,495.0 602.0,504.0 604.4,510.0 609.0,509.0 613.0,513.0 617.0,517.0 617.6,526.0" stroke-width="2.1"/>
<polyline points="530.0,480.0 534.0,483.0 537.6,479.0 542.0,482.6 539.0,489.0 538.0,495.0 534.0,496.0 533.0,500.0" stroke-width="2.1"/>
<polyline points="422.4,539.4 425.0,545.0 422.0,551.0 420.0,546.0 417.4,538.0 414.0,543.0 410.0,549.0 409.4,554.0 411.0,560.0 408.0,565.0 406.0,570.0 404.0,575.0 401.0,579.0 398.0,581.6 393.0,582.4 389.0,584.4 383.0,585.0" stroke-width="2.1"/>
<polyline points="533.0,500.0 533.0,506.0 531.0,512.0 530.0,517.0 534.0,520.0 537.6,524.0 538.4,530.0 544.0,531.0 548.0,535.0 553.0,540.0 561.0,544.4 564.0,550.0 569.0,555.6 574.0,554.4 578.0,551.6 578.0,545.0 581.0,538.0 583.0,530.0 582.6,525.6" stroke-width="2.1"/>
<polyline points="617.6,526.0 619.0,538.0 622.4,546.0 624.0,553.0 623.0,562.0 626.4,570.0 631.0,575.0 635.6,577.0 639.0,582.0 640.4,585.0" stroke-width="2.1"/>
<polyline points="264.0,396.0 269.0,396.4 275.0,394.4 281.0,397.0 288.0,400.0 289.0,405.0 293.0,406.4 299.0,407.0 305.6,408.0 309.0,402.0 314.0,405.0 320.0,407.0 326.0,410.0 326.4,415.0 330.0,418.0 338.0,419.0 341.6,422.0 341.0,431.6 336.0,430.0 330.0,427.0 325.0,428.4 318.0,426.4 311.0,425.0 304.0,422.4 298.0,420.0 291.0,420.0 286.0,420.4 280.0,417.0 274.0,415.0 270.0,413.0 269.0,409.6 265.0,407.0 261.6,405.6 264.0,400.0 264.0,396.0" stroke-width="2.1"/>
<polyline points="327.0,410.0 332.0,409.6 337.0,408.6 335.6,411.6 331.0,412.6 327.0,412.4 327.0,410.0" stroke-width="2.1"/>
<polyline id="mageq" stroke-dasharray="8 8" stroke-linecap="butt" points="123.5,215.0 180.0,215.0 240.0,216.5 270.0,218.0 300.0,219.3 340.0,220.0 380.0,220.0 440.0,217.5 474.0,216.6 480.0,214.6 506.0,215.0 512.0,213.4 600.0,213.4 608.0,215.0 658.0,215.5"/>
</g>
<g stroke="#262626" stroke-width="1" fill="none" shape-rendering="crispEdges">
<rect x="123.5" y="49.5" width="535.0" height="536.0"/>
<line x1="212.5" y1="585.5" x2="212.5" y2="580.0"/>
<line x1="212.5" y1="49.5" x2="212.5" y2="55.0"/>
<line x1="301.5" y1="585.5" x2="301.5" y2="580.0"/>
<line x1="301.5" y1="49.5" x2="301.5" y2="55.0"/>
<line x1="390.5" y1="585.5" x2="390.5" y2="580.0"/>
<line x1="390.5" y1="49.5" x2="390.5" y2="55.0"/>
<line x1="480.5" y1="585.5" x2="480.5" y2="580.0"/>
<line x1="480.5" y1="49.5" x2="480.5" y2="55.0"/>
<line x1="569.5" y1="585.5" x2="569.5" y2="580.0"/>
<line x1="569.5" y1="49.5" x2="569.5" y2="55.0"/>
<line x1="123.5" y1="518.5" x2="129.0" y2="518.5"/>
<line x1="658.5" y1="518.5" x2="653.0" y2="518.5"/>
<line x1="123.5" y1="451.5" x2="129.0" y2="451.5"/>
<line x1="658.5" y1="451.5" x2="653.0" y2="451.5"/>
<line x1="123.5" y1="384.5" x2="129.0" y2="384.5"/>
<line x1="658.5" y1="384.5" x2="653.0" y2="384.5"/>
<line x1="123.5" y1="317.5" x2="129.0" y2="317.5"/>
<line x1="658.5" y1="317.5" x2="653.0" y2="317.5"/>
<line x1="123.5" y1="250.5" x2="129.0" y2="250.5"/>
<line x1="658.5" y1="250.5" x2="653.0" y2="250.5"/>
<line x1="123.5" y1="183.5" x2="129.0" y2="183.5"/>
<line x1="658.5" y1="183.5" x2="653.0" y2="183.5"/>
<line x1="123.5" y1="116.5" x2="129.0" y2="116.5"/>
<line x1="658.5" y1="116.5" x2="653.0" y2="116.5"/>
</g>
<text x="122.7" y="614.9" font-size="20.4" text-anchor="middle">90</text>
<text x="211.9" y="614.9" font-size="20.4" text-anchor="middle">100</text>
<text x="301.0" y="614.9" font-size="20.4" text-anchor="middle">110</text>
<text x="390.2" y="614.9" font-size="20.4" text-anchor="middle">120</text>
<text x="479.4" y="614.9" font-size="20.4" text-anchor="middle">130</text>
<text x="568.5" y="614.9" font-size="20.4" text-anchor="middle">140</text>
<text x="657.7" y="614.9" font-size="20.4" text-anchor="middle">150</text>
<text x="113.4" y="593.9" font-size="20.4" text-anchor="end">-20</text>
<text x="113.4" y="526.9" font-size="20.4" text-anchor="end">-15</text>
<text x="113.4" y="459.9" font-size="20.4" text-anchor="end">-10</text>
<text x="113.4" y="392.9" font-size="20.4" text-anchor="end">-5</text>
<text x="113.4" y="325.9" font-size="20.4" text-anchor="end">0</text>
<text x="113.4" y="258.9" font-size="20.4" text-anchor="end">5</text>
<text x="113.4" y="191.9" font-size="20.4" text-anchor="end">10</text>
<text x="113.4" y="124.9" font-size="20.4" text-anchor="end">15</text>
<text x="113.4" y="57.9" font-size="20.4" text-anchor="end">20</text>
<text x="389.8" y="39.8" font-size="22.6" font-weight="bold" text-anchor="middle" textLength="245.5" lengthAdjust="spacing" style="fill:#000">30-Nov-2025; 00:00 UT</text>
<g transform="translate(289.1,645.6) rotate(0)">
<text x="-1" y="0" font-size="22.6" textLength="169.5" lengthAdjust="spacing">Geographic Lon.</text>
<text x="174.6" y="0" font-size="22.6">(</text>
<circle cx="188.6" cy="-11.9" r="3.1" fill="none" stroke="#262626" stroke-width="1"/>
<text x="194.8" y="0" font-size="22.6">)</text>
</g>
<g transform="translate(71.2,413.9) rotate(-90)">
<text x="-1" y="0" font-size="22.6" textLength="163.2" lengthAdjust="spacing">Geographic Lat.</text>
<text x="168.2" y="0" font-size="22.6">(</text>
<circle cx="182.2" cy="-11.9" r="3.1" fill="none" stroke="#262626" stroke-width="1"/>
<text x="188.4" y="0" font-size="22.6">)</text>
</g>
<g shape-rendering="crispEdges">
<rect x="697.5" y="577.12" width="42.0" height="8.88" fill="#00008f"/>
<rect x="697.5" y="568.75" width="42.0" height="8.88" fill="#00009f"/>
<rect x="697.5" y="560.38" width="42.0" height="8.88" fill="#0000af"/>
<rect x="697.5" y="552.00" width="42.0" height="8.88" fill="#0000bf"/>
<rect x="697.5" y="543.62" width="42.0" height="8.88" fill="#0000cf"/>
<rect x="697.5" y="535.25" width="42.0" height="8.88" fill="#0000df"/>
<rect x="697.5" y="526.88" width="42.0" height="8.88" fill="#0000ef"/>
<rect x="697.5" y="518.50" width="42.0" height="8.88" fill="#0000ff"/>
<rect x="697.5" y="510.12" width="42.0" height="8.88" fill="#0010ff"/>
<rect x="697.5" y="501.75" width="42.0" height="8.88" fill="#0020ff"/>
<rect x="697.5" y="493.38" width="42.0" height="8.88" fill="#0030ff"/>
<rect x="697.5" y="485.00" width="42.0" height="8.88" fill="#0040ff"/>
<rect x="697.5" y="476.62" width="42.0" height="8.88" fill="#0050ff"/>
<rect x="697.5" y="468.25" width="42.0" height="8.88" fill="#0060ff"/>
<rect x="697.5" y="459.88" width="42.0" height="8.88" fill="#0070ff"/>
<rect x="697.5" y="451.50" width="42.0" height="8.88" fill="#0080ff"/>
<rect x="697.5" y="443.12" width="42.0" height="8.88" fill="#008fff"/>
<rect x="697.5" y="434.75" width="42.0" height="8.88" fill="#009fff"/>
<rect x="697.5" y="426.38" width="42.0" height="8.88" fill="#00afff"/>
<rect x="697.5" y="418.00" width="42.0" height="8.88" fill="#00bfff"/>
<rect x="697.5" y="409.62" width="42.0" height="8.88" fill="#00cfff"/>
<rect x="697.5" y="401.25" width="42.0" height="8.88" fill="#00dfff"/>
<rect x="697.5" y="392.88" width="42.0" height="8.88" fill="#00efff"/>
<rect x="697.5" y="384.50" width="42.0" height="8.88" fill="#00ffff"/>
<rect x="697.5" y="376.12" width="42.0" height="8.88" fill="#10ffef"/>
<rect x="697.5" y="367.75" width="42.0" height="8.88" fill="#20ffdf"/>
<rect x="697.5" y="359.38" width="42.0" height="8.88" fill="#30ffcf"/>
<rect x="697.5" y="351.00" width="42.0" height="8.88" fill="#40ffbf"/>
<rect x="697.5" y="342.62" width="42.0" height="8.88" fill="#50ffaf"/>
<rect x="697.5" y="334.25" width="42.0" height="8.88" fill="#60ff9f"/>
<rect x="697.5" y="325.88" width="42.0" height="8.88" fill="#70ff8f"/>
<rect x="697.5" y="317.50" width="42.0" height="8.88" fill="#80ff80"/>
<rect x="697.5" y="309.12" width="42.0" height="8.88" fill="#8fff70"/>
<rect x="697.5" y="300.75" width="42.0" height="8.88" fill="#9fff60"/>
<rect x="697.5" y="292.38" width="42.0" height="8.88" fill="#afff50"/>
<rect x="697.5" y="284.00" width="42.0" height="8.88" fill="#bfff40"/>
<rect x="697.5" y="275.62" width="42.0" height="8.88" fill="#cfff30"/>
<rect x="697.5" y="267.25" width="42.0" height="8.88" fill="#dfff20"/>
<rect x="697.5" y="258.88" width="42.0" height="8.88" fill="#efff10"/>
<rect x="697.5" y="250.50" width="42.0" height="8.88" fill="#ffff00"/>
<rect x="697.5" y="242.12" width="42.0" height="8.88" fill="#ffef00"/>
<rect x="697.5" y="233.75" width="42.0" height="8.88" fill="#ffdf00"/>
<rect x="697.5" y="225.38" width="42.0" height="8.88" fill="#ffcf00"/>
<rect x="697.5" y="217.00" width="42.0" height="8.88" fill="#ffbf00"/>
<rect x="697.5" y="208.62" width="42.0" height="8.88" fill="#ffaf00"/>
<rect x="697.5" y="200.25" width="42.0" height="8.88" fill="#ff9f00"/>
<rect x="697.5" y="191.88" width="42.0" height="8.88" fill="#ff8f00"/>
<rect x="697.5" y="183.50" width="42.0" height="8.88" fill="#ff8000"/>
<rect x="697.5" y="175.12" width="42.0" height="8.88" fill="#ff7000"/>
<rect x="697.5" y="166.75" width="42.0" height="8.88" fill="#ff6000"/>
<rect x="697.5" y="158.38" width="42.0" height="8.88" fill="#ff5000"/>
<rect x="697.5" y="150.00" width="42.0" height="8.88" fill="#ff4000"/>
<rect x="697.5" y="141.62" width="42.0" height="8.88" fill="#ff3000"/>
<rect x="697.5" y="133.25" width="42.0" height="8.88" fill="#ff2000"/>
<rect x="697.5" y="124.88" width="42.0" height="8.88" fill="#ff1000"/>
<rect x="697.5" y="116.50" width="42.0" height="8.88" fill="#ff0000"/>
<rect x="697.5" y="108.12" width="42.0" height="8.88" fill="#ef0000"/>
<rect x="697.5" y="99.75" width="42.0" height="8.88" fill="#df0000"/>
<rect x="697.5" y="91.38" width="42.0" height="8.88" fill="#cf0000"/>
<rect x="697.5" y="83.00" width="42.0" height="8.88" fill="#bf0000"/>
<rect x="697.5" y="74.62" width="42.0" height="8.88" fill="#af0000"/>
<rect x="697.5" y="66.25" width="42.0" height="8.88" fill="#9f0000"/>
<rect x="697.5" y="57.88" width="42.0" height="8.88" fill="#8f0000"/>
<rect x="697.5" y="49.50" width="42.0" height="8.88" fill="#800000"/>
<rect x="697.5" y="49.5" width="42.0" height="536.0" fill="none" stroke="#262626"/>
<line x1="734.5" y1="531.5" x2="739.5" y2="531.5" stroke="#262626"/>
<line x1="734.5" y1="478.5" x2="739.5" y2="478.5" stroke="#262626"/>
<line x1="734.5" y1="424.5" x2="739.5" y2="424.5" stroke="#262626"/>
<line x1="734.5" y1="371.5" x2="739.5" y2="371.5" stroke="#262626"/>
<line x1="734.5" y1="317.5" x2="739.5" y2="317.5" stroke="#262626"/>
<line x1="734.5" y1="263.5" x2="739.5" y2="263.5" stroke="#262626"/>
<line x1="734.5" y1="210.5" x2="739.5" y2="210.5" stroke="#262626"/>
<line x1="734.5" y1="156.5" x2="739.5" y2="156.5" stroke="#262626"/>
<line x1="734.5" y1="103.5" x2="739.5" y2="103.5" stroke="#262626"/>
</g>
<text x="747.3" y="593.1" font-size="18.4">0</text>
<text x="747.3" y="539.5" font-size="18.4">10</text>
<text x="747.3" y="485.9" font-size="18.4">20</text>
<text x="747.3" y="432.3" font-size="18.4">30</text>
<text x="747.3" y="378.7" font-size="18.4">40</text>
<text x="747.3" y="325.1" font-size="18.4">50</text>
<text x="747.3" y="271.5" font-size="18.4">60</text>
<text x="747.3" y="217.9" font-size="18.4">70</text>
<text x="747.3" y="164.3" font-size="18.4">80</text>
<text x="747.3" y="110.7" font-size="18.4">90</text>
<text x="747.3" y="57.1" font-size="18.4">100</text>
<text transform="translate(805.2,447) rotate(-90)" font-size="19.2">Total Electron Content (TECU)</text>
</svg></body></html>
